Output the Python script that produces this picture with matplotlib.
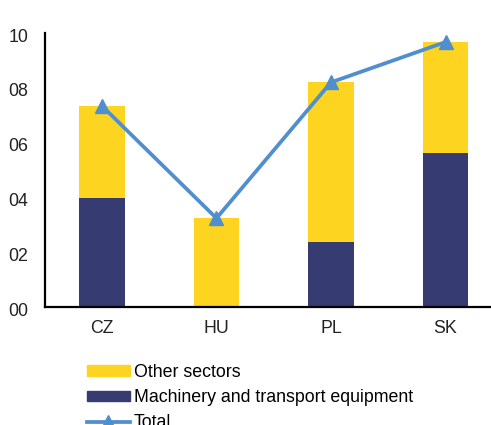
import numpy as np
import matplotlib.pyplot as plt
import matplotlib.transforms as mtransforms
from matplotlib.patches import Patch
from matplotlib.lines import Line2D

plt.rcParams['font.family'] = ['Liberation Sans', 'DejaVu Sans']

countries = ['CZ', 'HU', 'PL', 'SK']
machinery = [0.397, 0.0, 0.238, 0.563]
other = [0.337, 0.324, 0.582, 0.404]
total = [0.734, 0.324, 0.820, 0.967]
ytick_vals = [0.0, 0.2, 0.4, 0.6, 0.8, 1.0]
ytick_labels = ['00', '02', '04', '06', '08', '10']

yellow = '#FDD520'
navy = '#363C72'
blue = '#4F8FCF'

fig = plt.figure(figsize=(4.91, 4.25), dpi=100)
ax = fig.add_axes([0.091, 0.2776, 0.933, 0.6447])

x = np.arange(len(countries))
ax.bar(x, machinery, width=0.4, color=navy, zorder=2)
ax.bar(x, other, width=0.4, bottom=machinery, color=yellow, zorder=2)
ax.plot(x, total, color=blue, linewidth=2.7, marker='^', markersize=10, zorder=3)

ax.set_xlim(-0.5, 3.5)
ax.set_ylim(0, 1.0)
ax.set_xticks(x)
ax.set_xticklabels(countries, fontsize=12.8, color='#222222')
ax.set_yticks(ytick_vals)
ax.set_yticklabels(ytick_labels, fontsize=12.8, color='#222222')
ax.tick_params(length=0, pad=9)
ax.tick_params(axis='y', pad=12)

# labels sit a touch below their gridline in the original
offset = mtransforms.ScaledTranslation(0, -2 / 100, fig.dpi_scale_trans)
for lbl in ax.get_yticklabels():
    lbl.set_transform(lbl.get_transform() + offset)

for s in ['top', 'right']:
    ax.spines[s].set_visible(False)
for s in ['left', 'bottom']:
    ax.spines[s].set_linewidth(1.6)
    ax.spines[s].set_color('black')

handles = [
    Patch(color=yellow, label='Other sectors'),
    Patch(color=navy, label='Machinery and transport equipment'),
    Line2D([0], [0], color=blue, linewidth=2.7, marker='^', markersize=10, label='Total'),
]
fig.legend(handles=handles, loc='upper left', bbox_to_anchor=(0.159, 0.165),
           frameon=False, fontsize=12.8, handlelength=2.4, handleheight=0.5,
           handletextpad=0.22, labelspacing=0.47, borderpad=0)

fig.savefig('out.png', dpi=100)
